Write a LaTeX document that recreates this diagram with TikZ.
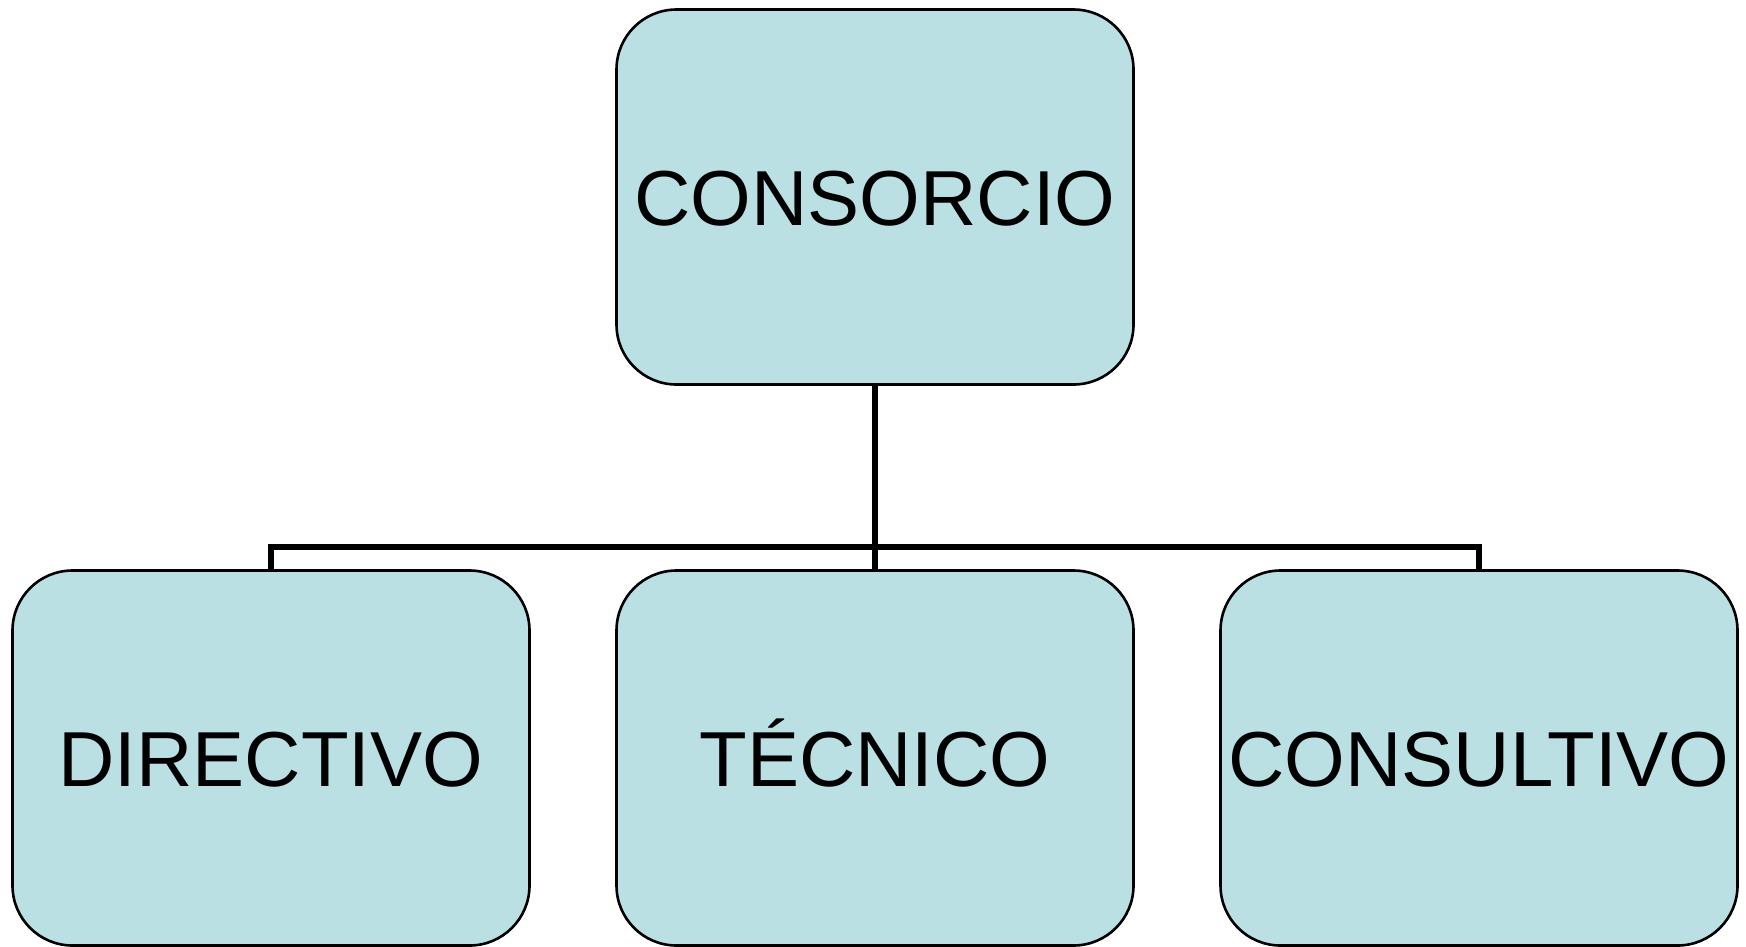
\documentclass[tikz,border=0pt]{standalone}
\usepackage{fontspec}
\setmainfont{Liberation Sans}
\definecolor{boxfill}{HTML}{BAE0E3}
\begin{document}
\begin{tikzpicture}[x=1pt,y=-1pt,
  orgbox/.style={draw=black, line width=2.6pt, fill=boxfill, rounded corners=60pt,
    minimum width=517pt, minimum height=375pt, inner sep=0pt,
    text height=56pt, text depth=0pt,
    font=\fontsize{78}{90}\selectfont, text=black},
  conn/.style={draw=black, line width=6pt}]
\useasboundingbox (0,0) rectangle (1746,946);
\fill[white] (0,0) rectangle (1746,946);
\node[orgbox] (top) at (875,197) {CONSORCIO};
\node[orgbox] (dir) at (271,758) {DIRECTIVO};
\node[orgbox] (tec) at (875,758) {TÉCNICO};
\node[orgbox] (con) at (1479,758) {CONSULTIVO};
\coordinate (bus) at (875,547);
\draw[conn] (top.south) -- (tec.north);
\draw[conn, line width=5.5pt] (dir.north) -- (dir.north |- bus) -- (con.north |- bus) -- (con.north);
\end{tikzpicture}
\end{document}
